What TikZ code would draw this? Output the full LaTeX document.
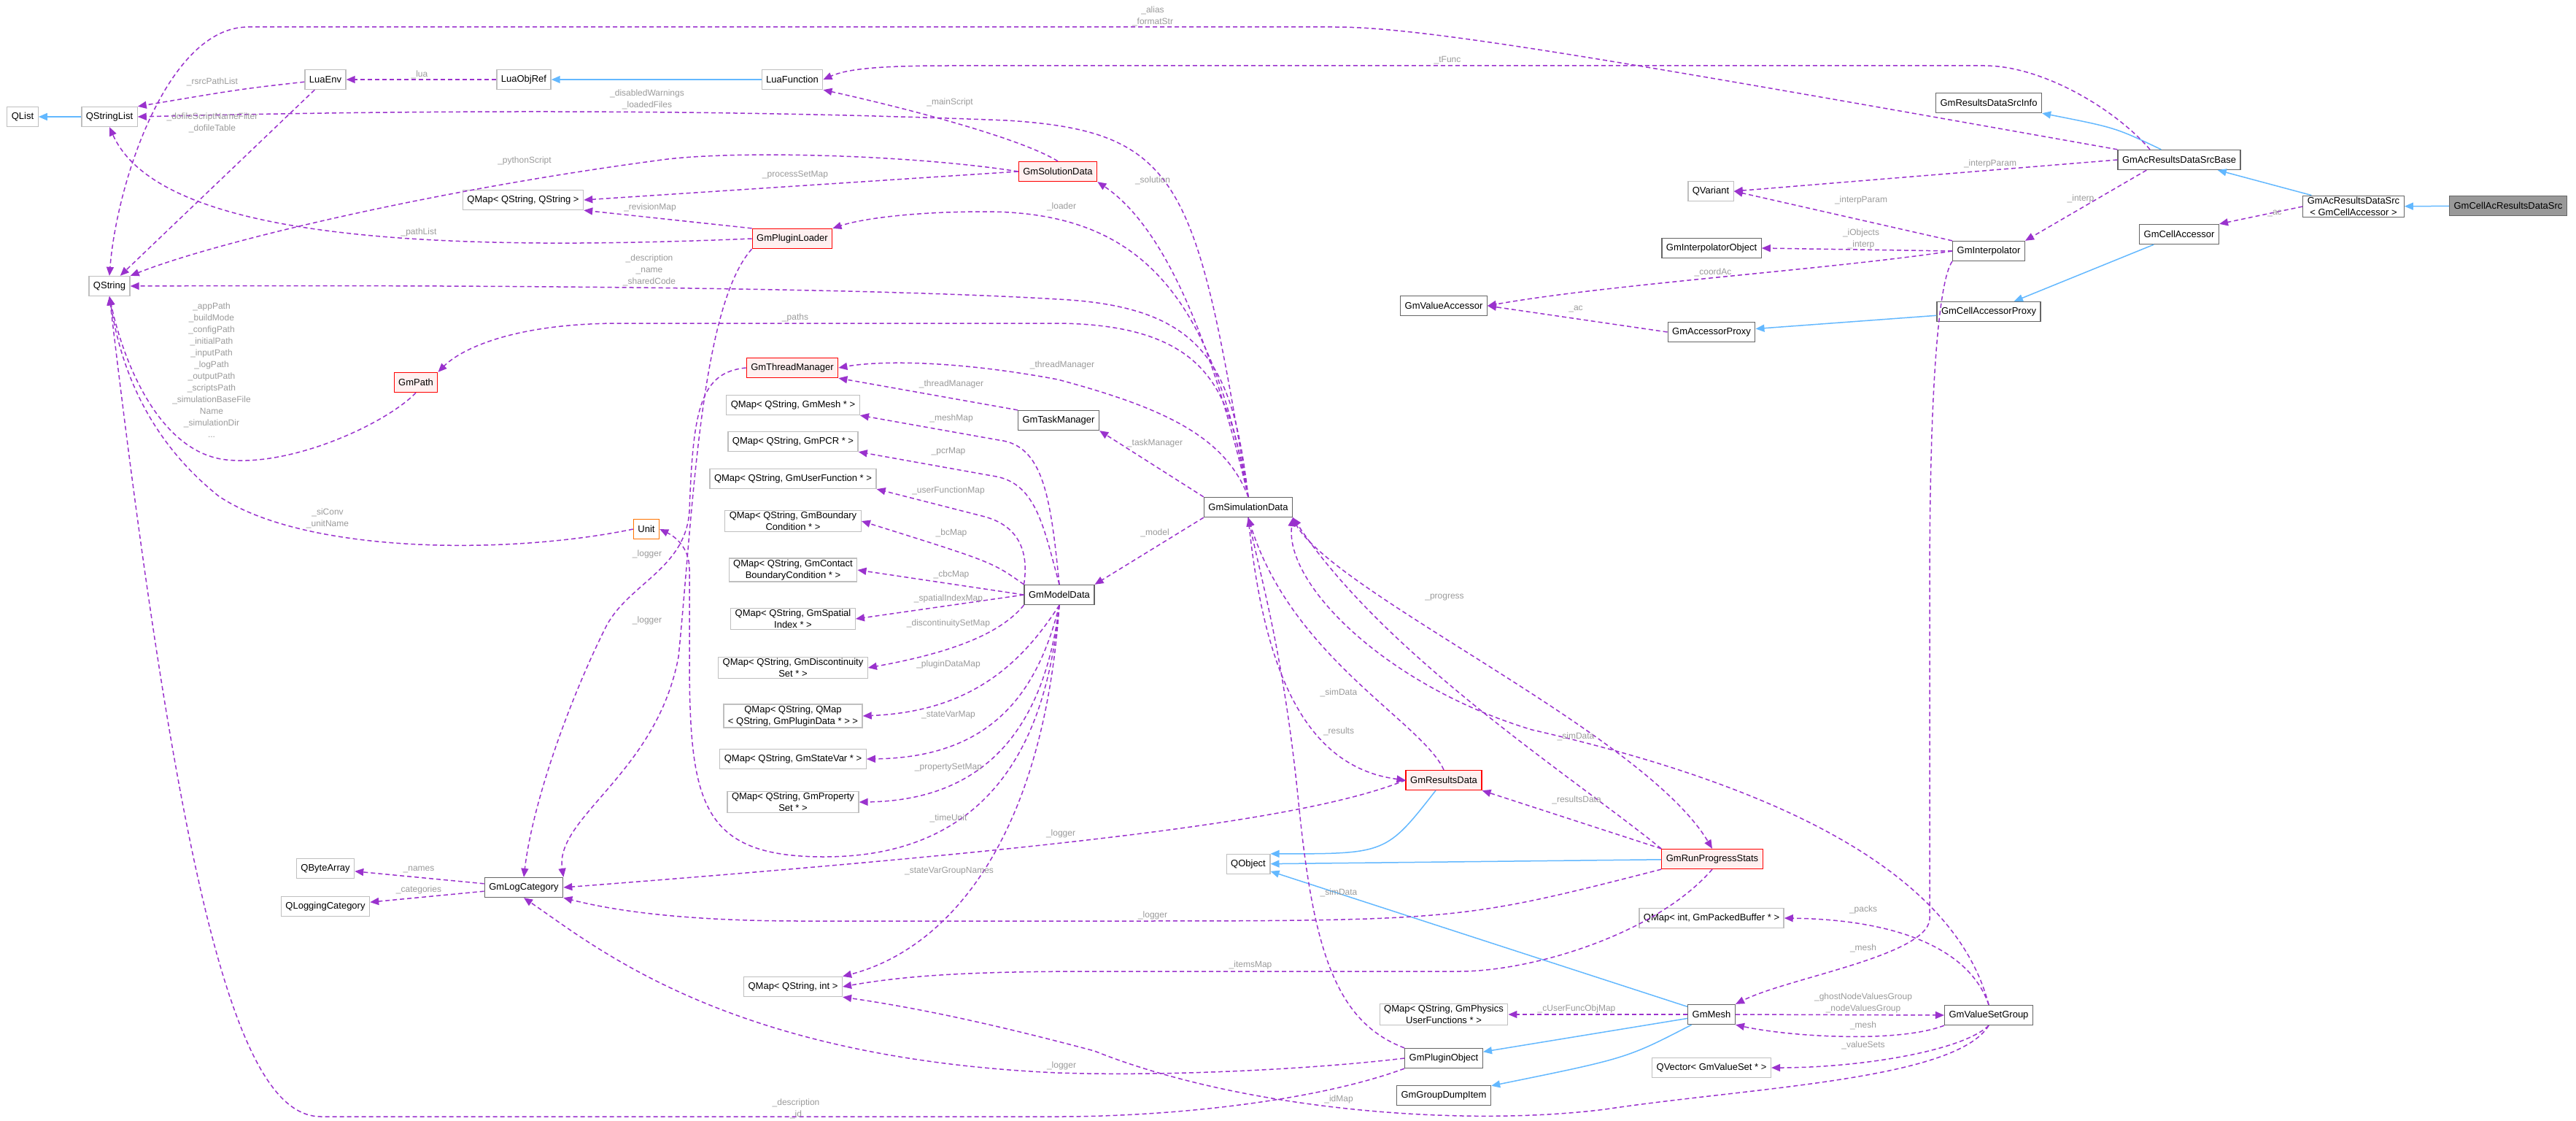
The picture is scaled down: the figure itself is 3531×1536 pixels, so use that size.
\documentclass[tikz,border=0pt]{standalone}
\usepackage{fontspec}
\setmainfont{Liberation Sans}
\usetikzlibrary{arrows.meta}
\definecolor{usecol}{HTML}{9A32CD}
\definecolor{inhcol}{HTML}{63B8FF}
\definecolor{lblcol}{HTML}{9A9A9A}
\definecolor{extcol}{HTML}{BFBFBF}
\definecolor{clscol}{HTML}{666666}
\tikzset{
	box/.style={draw, rectangle, inner xsep=6pt, inner ysep=2pt, minimum height=27pt, line width=1.3pt, align=center, font=\fontsize{13}{16}\selectfont},
	ext/.style={box, draw=extcol},
	cls/.style={box, draw=clscol},
	hot/.style={box, draw=red, fill=red!6},
	warn/.style={box, draw=orange!90!red},
	me/.style={box, draw=clscol, fill=black!40},
	use/.style={usecol, line width=1.5pt, dash pattern=on 6pt off 4pt, -{Triangle[width=10pt,length=12pt]}},
	inh/.style={inhcol, line width=1.5pt, -{Triangle[width=10pt,length=12pt]}},
	lbl/.style={text=lblcol, inner sep=0pt, align=center, font=\fontsize{12}{16}\selectfont},
}
\begin{document}
\begin{tikzpicture}[x=1pt, y=-1pt]
	\useasboundingbox (0,0) rectangle (3531,1536);
	% left column
	\node [ext] (QList) at (31,160) {QList};
	\node [ext] (QStringList) at (150,160) {QStringList};
	\node [ext] (QString) at (150,392) {QString};
	\node [ext] (LuaEnv) at (446,109) {LuaEnv};
	\node [ext] (LuaObjRef) at (718,109) {LuaObjRef};
	\node [ext] (LuaFunction) at (1086,109) {LuaFunction};
	\node [ext] (qSS) at (717,274) {QMap\textless{} QString, QString \textgreater};
	\node [hot] (GmPluginLoader) at (1086,327) {GmPluginLoader};
	\node [hot] (GmPath) at (570,524) {GmPath};
	\node [warn] (Unit) at (886,725) {Unit};
	\node [cls] (GmLogCategory) at (718,1216) {GmLogCategory};
	\node [ext] (QByteArray) at (446,1190) {QByteArray};
	\node [ext] (QLoggingCategory) at (446,1242) {QLoggingCategory};
	% maps of the model
	\node [hot] (GmThreadManager) at (1086,504) {GmThreadManager};
	\node [ext] (qMesh) at (1087,555) {QMap\textless{} QString, GmMesh * \textgreater};
	\node [ext] (qPcr) at (1087,605) {QMap\textless{} QString, GmPCR * \textgreater};
	\node [ext] (qUser) at (1087,656) {QMap\textless{} QString, GmUserFunction * \textgreater};
	\node [ext] (qBc) at (1087,714) {QMap\textless{} QString, GmBoundary\\Condition * \textgreater};
	\node [ext] (qCbc) at (1087,781) {QMap\textless{} QString, GmContact\\BoundaryCondition * \textgreater};
	\node [ext] (qSpatial) at (1087,848) {QMap\textless{} QString, GmSpatial\\Index * \textgreater};
	\node [ext] (qDisc) at (1087,915) {QMap\textless{} QString, GmDiscontinuity\\Set * \textgreater};
	\node [ext] (qPlug) at (1087,981) {QMap\textless{} QString, QMap\\\textless{} QString, GmPluginData * \textgreater{} \textgreater};
	\node [ext] (qState) at (1087,1040) {QMap\textless{} QString, GmStateVar * \textgreater};
	\node [ext] (qProp) at (1087,1099) {QMap\textless{} QString, GmProperty\\Set * \textgreater};
	\node [ext] (qSI) at (1087,1352) {QMap\textless{} QString, int \textgreater};
	% middle
	\node [hot] (GmSolutionData) at (1450,235) {GmSolutionData};
	\node [cls] (GmTaskManager) at (1451,576) {GmTaskManager};
	\node [cls] (GmModelData) at (1452,815) {GmModelData};
	\node [cls] (GmSimulationData) at (1711,695) {GmSimulationData};
	\node [hot] (GmResultsData) at (1979,1069) {GmResultsData};
	\node [ext] (QObject) at (1711,1184) {QObject};
	\node [hot] (GmRunProgressStats) at (2347,1177) {GmRunProgressStats};
	\node [ext] (qIP) at (2346,1258) {QMap\textless{} int, GmPackedBuffer * \textgreater};
	\node [ext] (qPhys) at (1979,1390) {QMap\textless{} QString, GmPhysics\\UserFunctions * \textgreater};
	\node [cls] (GmMesh) at (2346,1390) {GmMesh};
	\node [cls] (GmValueSetGroup) at (2726,1391) {GmValueSetGroup};
	\node [cls] (GmPluginObject) at (1979,1450) {GmPluginObject};
	\node [cls] (GmGroupDumpItem) at (1979,1501) {GmGroupDumpItem};
	\node [ext] (qVec) at (2346,1463) {QVector\textless{} GmValueSet * \textgreater};
	% right
	\node [ext] (QVariant) at (2345,262) {QVariant};
	\node [cls] (GmInterpolatorObject) at (2346,340) {GmInterpolatorObject};
	\node [cls] (GmValueAccessor) at (1979,419) {GmValueAccessor};
	\node [cls] (GmAccessorProxy) at (2346,455) {GmAccessorProxy};
	\node [cls] (GmInterpolator) at (2726,344) {GmInterpolator};
	\node [cls] (GmCellAccessorProxy) at (2726,427) {GmCellAccessorProxy};
	\node [cls] (GmResultsDataSrcInfo) at (2726,141) {GmResultsDataSrcInfo};
	\node [cls] (GmAcResultsDataSrcBase) at (2987,219) {GmAcResultsDataSrcBase};
	\node [cls] (GmCellAccessor) at (2987,321) {GmCellAccessor};
	\node [cls] (GmAcResultsDataSrc) at (3226,283) {GmAcResultsDataSrc\\\textless{} GmCellAccessor \textgreater};
	\node [me] (GmCellAcResultsDataSrc) at (3438,282) {GmCellAcResultsDataSrc};

	% inheritance
	\draw [inh] (QStringList) -- (QList);
	\draw [inh] (LuaFunction) -- (LuaObjRef);
	\draw [inh] (GmAcResultsDataSrcBase.north west) ++(60,0) .. controls (2900,175) .. (GmResultsDataSrcInfo.south east);
	\draw [inh] (GmAcResultsDataSrc) -- (GmAcResultsDataSrcBase);
	\draw [inh] (GmCellAcResultsDataSrc) -- (GmAcResultsDataSrc);
	\draw [inh] (GmCellAccessor) -- (GmCellAccessorProxy);
	\draw [inh] (GmCellAccessorProxy) -- (GmAccessorProxy);
	\draw [inh] (GmResultsData) .. controls (1900,1170) .. (QObject.north east);
	\draw [inh] (GmRunProgressStats) -- (QObject);
	\draw [inh] (GmMesh) -- (QObject);
	\draw [inh] (GmMesh) -- (GmPluginObject);
	\draw [inh] (GmMesh) .. controls (2230,1450) .. (GmGroupDumpItem);

	% usage
	\draw [use] (LuaEnv) .. controls (330,122) .. (QStringList.north east);
	\draw [use] (LuaObjRef) -- (LuaEnv);
	\draw [use] (LuaEnv) -- (QString);
	\draw [use] (GmAcResultsDataSrcBase.north west) .. controls (2200,80) and (1950,37) .. (1830,37) -- (340,37) .. controls (230,37) and (160,250) .. (QString.north);
	\draw [use] (GmAcResultsDataSrcBase.north) ++(-40,0) .. controls (2900,150) and (2800,90) .. (2720,90) -- (1300,90) .. controls (1200,90) and (1160,95) .. (LuaFunction.east);
	\draw [use] (GmSimulationData.north) .. controls (1640,250) and (1620,180) .. (1380,165) .. controls (1000,150) and (600,150) .. (QStringList.east);
	\draw [use] (GmSolutionData.north) .. controls (1400,190) and (1250,150) .. (LuaFunction.south east);
	\draw [use] (GmSolutionData.west) .. controls (1250,212) and (1000,205) .. (900,220) .. controls (600,260) and (300,330) .. (QString.north east);
	\draw [use] (GmSolutionData.west) -- (qSS.east);
	\draw [use] (GmPluginLoader.north west) -- (qSS.south east);
	\draw [use] (GmPluginLoader.west) .. controls (600,345) and (220,330) .. (QStringList.south);
	\draw [use] (GmSimulationData.north) .. controls (1660,400) and (1560,290) .. (1350,290) .. controls (1250,290) and (1180,300) .. (GmPluginLoader.north east);
	\draw [use] (GmSimulationData.north) .. controls (1650,420) and (1580,300) .. (GmSolutionData.south east);
	\draw [use] (GmSimulationData.north) .. controls (1690,500) and (1650,420) .. (1450,410) .. controls (1200,395) and (700,390) .. (QString.east);
	\draw [use] (GmSimulationData.north) .. controls (1685,560) and (1680,445) .. (1450,443) -- (850,443) .. controls (700,443) and (630,480) .. (GmPath.north east);
	\draw [use] (GmPluginLoader.south west) .. controls (960,420) and (950,700) .. (930,900) .. controls (900,1060) and (760,1120) .. (GmLogCategory.north east);
	\draw [use] (GmThreadManager.west) .. controls (960,510) and (950,560) .. (945,700) .. controls (940,780) and (860,800) .. (830,860) .. controls (780,960) and (730,1100) .. (GmLogCategory.north);
	\draw [use] (GmModelData.south) .. controls (1440,950) and (1400,1174) .. (1130,1174) .. controls (960,1174) and (945,1100) .. (945,900) -- (945,780) .. controls (945,750) and (925,735) .. (Unit.east);
	\draw [use] (Unit.west) .. controls (700,760) and (420,760) .. (300,680) .. controls (200,600) and (165,500) .. (QString.south);
	\draw [use] (GmPath.south) .. controls (530,580) and (400,640) .. (310,630) .. controls (220,620) and (170,500) .. (QString.south);
	\draw [use] (GmPluginObject.south west) .. controls (1800,1510) and (1600,1530) .. (1450,1530) -- (440,1530) .. controls (330,1530) and (250,1250) .. (QString.south);
	\draw [use] (GmLogCategory) -- (QByteArray);
	\draw [use] (GmLogCategory) -- (QLoggingCategory);
	\draw [use] (GmResultsData.west) .. controls (1800,1120) and (1500,1160) .. (GmLogCategory.east);
	\draw [use] (GmRunProgressStats.south west) .. controls (2000,1262) .. (1500,1262) -- (1100,1262) .. controls (950,1262) and (850,1250) .. (GmLogCategory.south east);
	\draw [use] (GmRunProgressStats.south) .. controls (2270,1280) and (2100,1331) .. (2000,1331) -- (1500,1331) .. controls (1350,1331) and (1250,1335) .. (qSI.east);
	\draw [use] (GmPluginObject.west) .. controls (1800,1465) and (1600,1475) .. (1450,1470) .. controls (1000,1450) and (820,1300) .. (GmLogCategory.south);
	\draw [use] (GmValueSetGroup.south) .. controls (2680,1480) and (2400,1490) .. (2200,1520) .. controls (2000,1545) and (1700,1520) .. (1500,1440) .. controls (1350,1400) and (1250,1380) .. (qSI.south east);
	\draw [use] (GmModelData.south) .. controls (1430,1150) and (1300,1300) .. (qSI.north east);
	\draw [use] (GmSimulationData.north) .. controls (1680,600) and (1600,560) .. (1450,520) .. controls (1300,492) and (1200,495) .. (GmThreadManager.east);
	\draw [use] (GmTaskManager.north west) -- (GmThreadManager.south east);
	\draw [use] (GmSimulationData.north west) -- (GmTaskManager.south east);
	\draw [use] (GmSimulationData.south west) -- (GmModelData.north east);
	\draw [use] (GmModelData.north) .. controls (1440,680) and (1430,610) .. (1369,603) -- (qMesh.south east);
	\draw [use] (GmModelData.north) .. controls (1430,720) and (1420,660) .. (1360,652) -- (qPcr.south east);
	\draw [use] (GmModelData.north west) .. controls (1410,760) and (1400,720) .. (1346,707) -- (qUser.south east);
	\draw [use] (GmModelData.north west) .. controls (1360,770) .. (qBc.east);
	\draw [use] (GmModelData.west) -- (qCbc.east);
	\draw [use] (GmModelData.west) -- (qSpatial.east);
	\draw [use] (GmModelData.south west) .. controls (1370,870) and (1300,895) .. (qDisc.east);
	\draw [use] (GmModelData.south) .. controls (1400,910) and (1330,975) .. (qPlug.east);
	\draw [use] (GmModelData.south) .. controls (1420,960) and (1350,1038) .. (qState.east);
	\draw [use] (GmModelData.south) .. controls (1430,1010) and (1340,1097) .. (qProp.east);
	\draw [use] (GmSimulationData.south) .. controls (1730,900) and (1780,1050) .. (GmResultsData.west);
	\draw [use] (GmResultsData.north) .. controls (1950,990) and (1770,900) .. (GmSimulationData.south);
	\draw [use] (GmSimulationData.south east) .. controls (1800,800) and (2250,1000) .. (GmRunProgressStats.north);
	\draw [use] (GmRunProgressStats.north west) .. controls (2150,1060) and (1900,900) .. (GmSimulationData.south east);
	\draw [use] (GmValueSetGroup.north) .. controls (2680,1200) and (2450,1080) .. (2100,1000) .. controls (1900,940) and (1760,800) .. (GmSimulationData.south east);
	\draw [use] (GmRunProgressStats.north west) -- (GmResultsData.south east);
	\draw [use] (GmPluginObject.north west) .. controls (1830,1400) and (1800,1300) .. (1780,1100) .. controls (1760,900) and (1730,800) .. (GmSimulationData.south);
	\draw [use] (GmInterpolator.south west) .. controls (2660,380) and (2645,500) .. (2645,800) -- (2645,1260) .. controls (2640,1310) and (2450,1340) .. (GmMesh.north east);
	\draw [use] (GmValueSetGroup.south west) .. controls (2600,1430) and (2450,1420) .. (GmMesh.south east);
	\draw [use] (GmMesh.east) -- (GmValueSetGroup.west);
	\draw [use] (GmMesh.west) -- (qPhys.east);
	\draw [use] (GmValueSetGroup.north) .. controls (2700,1300) and (2600,1260) .. (qIP.east);
	\draw [use] (GmValueSetGroup.south) .. controls (2690,1440) and (2550,1463) .. (qVec.east);
	\draw [use] (GmInterpolator.west) -- (GmInterpolatorObject.east);
	\draw [use] (GmInterpolator.west) .. controls (2500,370) and (2200,390) .. (GmValueAccessor.east);
	\draw [use] (GmAccessorProxy.west) -- (GmValueAccessor.east);
	\draw [use] (GmAcResultsDataSrc.west) -- (GmCellAccessor.north east);
	\draw [use] (GmAcResultsDataSrcBase.south west) ++(40,0) -- (GmInterpolator.north east);
	\draw [use] (GmAcResultsDataSrcBase.west) -- (QVariant.east);
	\draw [use] (GmInterpolator.north west) -- (QVariant.east);

	% labels
	\node [lbl] (lRsrc) at (291,112) {\_rsrcPathList};
	\node [lbl] (lLua) at (575,102) {\_lua};
	\node [lbl] (lDisabled) at (887,136) {\_disabledWarnings\\\_loadedFiles};
	\node [lbl] (lDofile) at (291,168) {\_dofileScriptNameFilter\\\_dofileTable};
	\node [lbl] (lPython) at (719,220) {\_pythonScript};
	\node [lbl] (lProcess) at (1090,240) {\_processSetMap};
	\node [lbl] (lRevision) at (891,284) {\_revisionMap};
	\node [lbl] (lPathList) at (574,318) {\_pathList};
	\node [lbl] (lDescr) at (890,370) {\_description\\\_name\\\_sharedCode};
	\node [lbl] (lPaths) at (1090,435) {\_paths};
	\node [lbl] (lAppPath) at (290,507) {\_appPath\\\_buildMode\\\_configPath\\\_initialPath\\\_inputPath\\\_logPath\\\_outputPath\\\_scriptsPath\\\_simulationBaseFile\\Name\\\_simulationDir\\...};
	\node [lbl] (lSiConv) at (449,710) {\_siConv\\\_unitName};
	\node [lbl] (lLoggerA) at (887,759) {\_logger};
	\node [lbl] (lLoggerB) at (887,850) {\_logger};
	\node [lbl] (lAlias) at (1580,22) {\_alias\\\_formatStr};
	\node [lbl] (lTFunc) at (1984,83) {\_tFunc};
	\node [lbl] (lMain) at (1302,140) {\_mainScript};
	\node [lbl] (lSolution) at (1580,247) {\_solution};
	\node [lbl] (lLoader) at (1455,283) {\_loader};
	\node [lbl] (lCoordAc) at (2348,373) {\_coordAc};
	\node [lbl] (lAcA) at (2160,423) {\_ac};
	\node [lbl] (lInterpParamA) at (2728,224) {\_interpParam};
	\node [lbl] (lInterpParamB) at (2551,274) {\_interpParam};
	\node [lbl] (lInterp) at (2852,272) {\_interp};
	\node [lbl] (lIObjects) at (2551,327) {\_iObjects\\\_interp};
	\node [lbl] (lAcB) at (3118,292) {\_ac};
	\node [lbl] (lThreadA) at (1456,500) {\_threadManager};
	\node [lbl] (lThreadB) at (1304,526) {\_threadManager};
	\node [lbl] (lMeshMap) at (1304,573) {\_meshMap};
	\node [lbl] (lPcr) at (1300,619) {\_pcrMap};
	\node [lbl] (lUser) at (1300,672) {\_userFunctionMap};
	\node [lbl] (lBc) at (1304,730) {\_bcMap};
	\node [lbl] (lCbc) at (1304,787) {\_cbcMap};
	\node [lbl] (lSpatial) at (1300,820) {\_spatialIndexMap};
	\node [lbl] (lDisc) at (1300,854) {\_discontinuitySetMap};
	\node [lbl] (lPlug) at (1300,910) {\_pluginDataMap};
	\node [lbl] (lState) at (1300,980) {\_stateVarMap};
	\node [lbl] (lProp) at (1300,1052) {\_propertySetMap};
	\node [lbl] (lTime) at (1300,1121) {\_timeUnit};
	\node [lbl] (lLoggerC) at (1454,1142) {\_logger};
	\node [lbl] (lTask) at (1583,607) {\_taskManager};
	\node [lbl] (lModel) at (1583,730) {\_model};
	\node [lbl] (lProgress) at (1980,819) {\_progress};
	\node [lbl] (lSimA) at (1835,949) {\_simData};
	\node [lbl] (lResults) at (1835,1002) {\_results};
	\node [lbl] (lSimB) at (2160,1009) {\_simData};
	\node [lbl] (lNames) at (574,1191) {\_names};
	\node [lbl] (lCategories) at (574,1219) {\_categories};
	\node [lbl] (lSVGN) at (1301,1194) {\_stateVarGroupNames};
	\node [lbl] (lLoggerD) at (1455,1460) {\_logger};
	\node [lbl] (lDescrId) at (1091,1519) {\_description\\\_id};
	\node [lbl] (lResultsData) at (2161,1096) {\_resultsData};
	\node [lbl] (lSimC) at (1835,1223) {\_simData};
	\node [lbl] (lLoggerE) at (1580,1254) {\_logger};
	\node [lbl] (lItems) at (1714,1322) {\_itemsMap};
	\node [lbl] (lPacks) at (2554,1246) {\_packs};
	\node [lbl] (lMeshA) at (2554,1299) {\_mesh};
	\node [lbl] (lGhost) at (2554,1374) {\_ghostNodeValuesGroup\\\_nodeValuesGroup};
	\node [lbl] (lMeshB) at (2554,1405) {\_mesh};
	\node [lbl] (lValueSets) at (2554,1432) {\_valueSets};
	\node [lbl] (lCUser) at (2161,1382) {\_cUserFuncObjMap};
	\node [lbl] (lIdMap) at (1835,1506) {\_idMap};
\end{tikzpicture}
\end{document}
